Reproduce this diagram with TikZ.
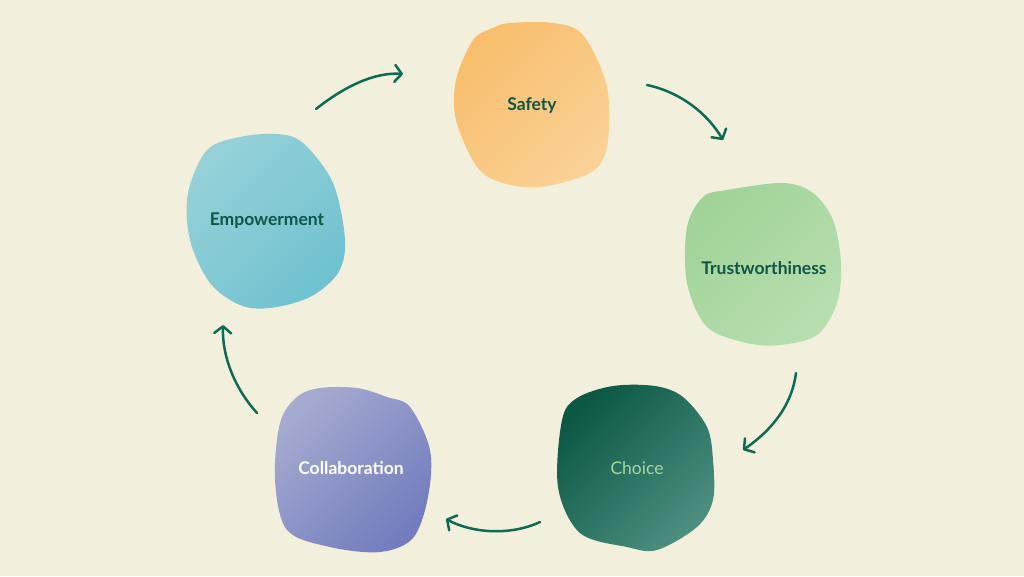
\documentclass[tikz,border=0pt]{standalone}
\usepackage{fontspec}
\setmainfont{Lato}
\usetikzlibrary{arrows.meta}
\definecolor{bgc}{HTML}{F2F0DC}
\definecolor{arrowc}{HTML}{0D6A54}
\definecolor{txtdark}{HTML}{0F5647}
\definecolor{choicetxt}{HTML}{A6D89E}
\definecolor{safA}{HTML}{F8BE6C}
\definecolor{safB}{HTML}{FAD197}
\definecolor{truA}{HTML}{A1D399}
\definecolor{truB}{HTML}{B7DEAF}
\definecolor{choA}{HTML}{0C5845}
\definecolor{choB}{HTML}{4D8E80}
\definecolor{empA}{HTML}{96D1D8}
\definecolor{empB}{HTML}{70C2D0}
\definecolor{colA}{HTML}{A5AAD0}
\definecolor{colB}{HTML}{737CBE}
\tikzset{
  label/.style={font=\bfseries\fontsize{17.5}{20}\selectfont, text=txtdark, inner sep=0pt},
  cyclearrow/.style={draw=arrowc, line width=2.5pt, line cap=round,
     -{Straight Barb[length=7pt,width=17pt,line cap=round,line join=round]}},
  blobshade/.style 2 args={left color=#1, right color=#2, shading angle=45}
}
\begin{document}
\begin{tikzpicture}[x=1pt,y=-1pt]
\fill[bgc] (0,0) rectangle (1024,576);
\useasboundingbox (0,0) rectangle (1024,576);

% blobs
\shade[blobshade={safA}{safB}]
  plot[smooth cycle, tension=0.55] coordinates {(510,23) (553,23) (583,35) (607,87) (607,147) (590,173) (540,187) (503,183) (477,167) (456,120) (456,80) (473,40) (493,28)};
\shade[blobshade={truA}{truB}]
  plot[smooth cycle, tension=0.55] coordinates {(727,190) (783,183) (813,193) (833,220) (841,263) (837,303) (817,335) (780,345) (747,343) (707,327) (687,283) (687,227) (703,197)};
\shade[blobshade={choA}{choB}]
  plot[smooth cycle, tension=0.55] coordinates {(577,398) (613,386) (655,386) (683,397) (707,427) (713,460) (713,500) (697,527) (657,550) (627,547) (580,533) (558,487) (562,420)};
\shade[blobshade={colA}{colB}]
  plot[smooth cycle, tension=0.55] coordinates {(297,397) (320,388) (357,388) (387,397) (410,407) (430,450) (428,497) (413,538) (380,552) (330,547) (287,530) (275,480) (280,423)};
\shade[blobshade={empA}{empB}]
  plot[smooth cycle, tension=0.55] coordinates {(240,137) (277,134) (303,143) (333,183) (345,240) (338,273) (310,297) (270,308) (240,305) (210,283) (190,240) (188,193) (207,150)};

% labels
\node[label] (safety) at (532,106) {Safety};
\node[label] (trust) at (764,268) {Trustworthiness};
\node[label, text=choicetxt, font=\fontsize{17.5}{20}\selectfont] (choice) at (637,468) {Choice};
\node[label, text=white] (collab) at (351,468) {Collaboration};
\node[label] (empower) at (267,221) {Empowerment};

% arrow end points
\coordinate (a1s) at (316,109); \coordinate (a1e) at (403,74);
\coordinate (a2s) at (647,85);  \coordinate (a2e) at (723,140);
\coordinate (a3s) at (796,373); \coordinate (a3e) at (743,450);
\coordinate (a4s) at (540,522); \coordinate (a4e) at (446,519);
\coordinate (a5s) at (257,413); \coordinate (a5e) at (223,325);

\draw[cyclearrow] (a1s) .. controls (345,86) and (375,72) .. (a1e);
\draw[cyclearrow] (a2s) .. controls (680,92) and (707,113) .. (a2e);
\draw[cyclearrow] (a3s) .. controls (792,405) and (772,430) .. (a3e);
\draw[cyclearrow] (a4s) .. controls (510,536) and (472,533) .. (a4e);
\draw[cyclearrow] (a5s) .. controls (236,390) and (222,358) .. (a5e);
\end{tikzpicture}
\end{document}
